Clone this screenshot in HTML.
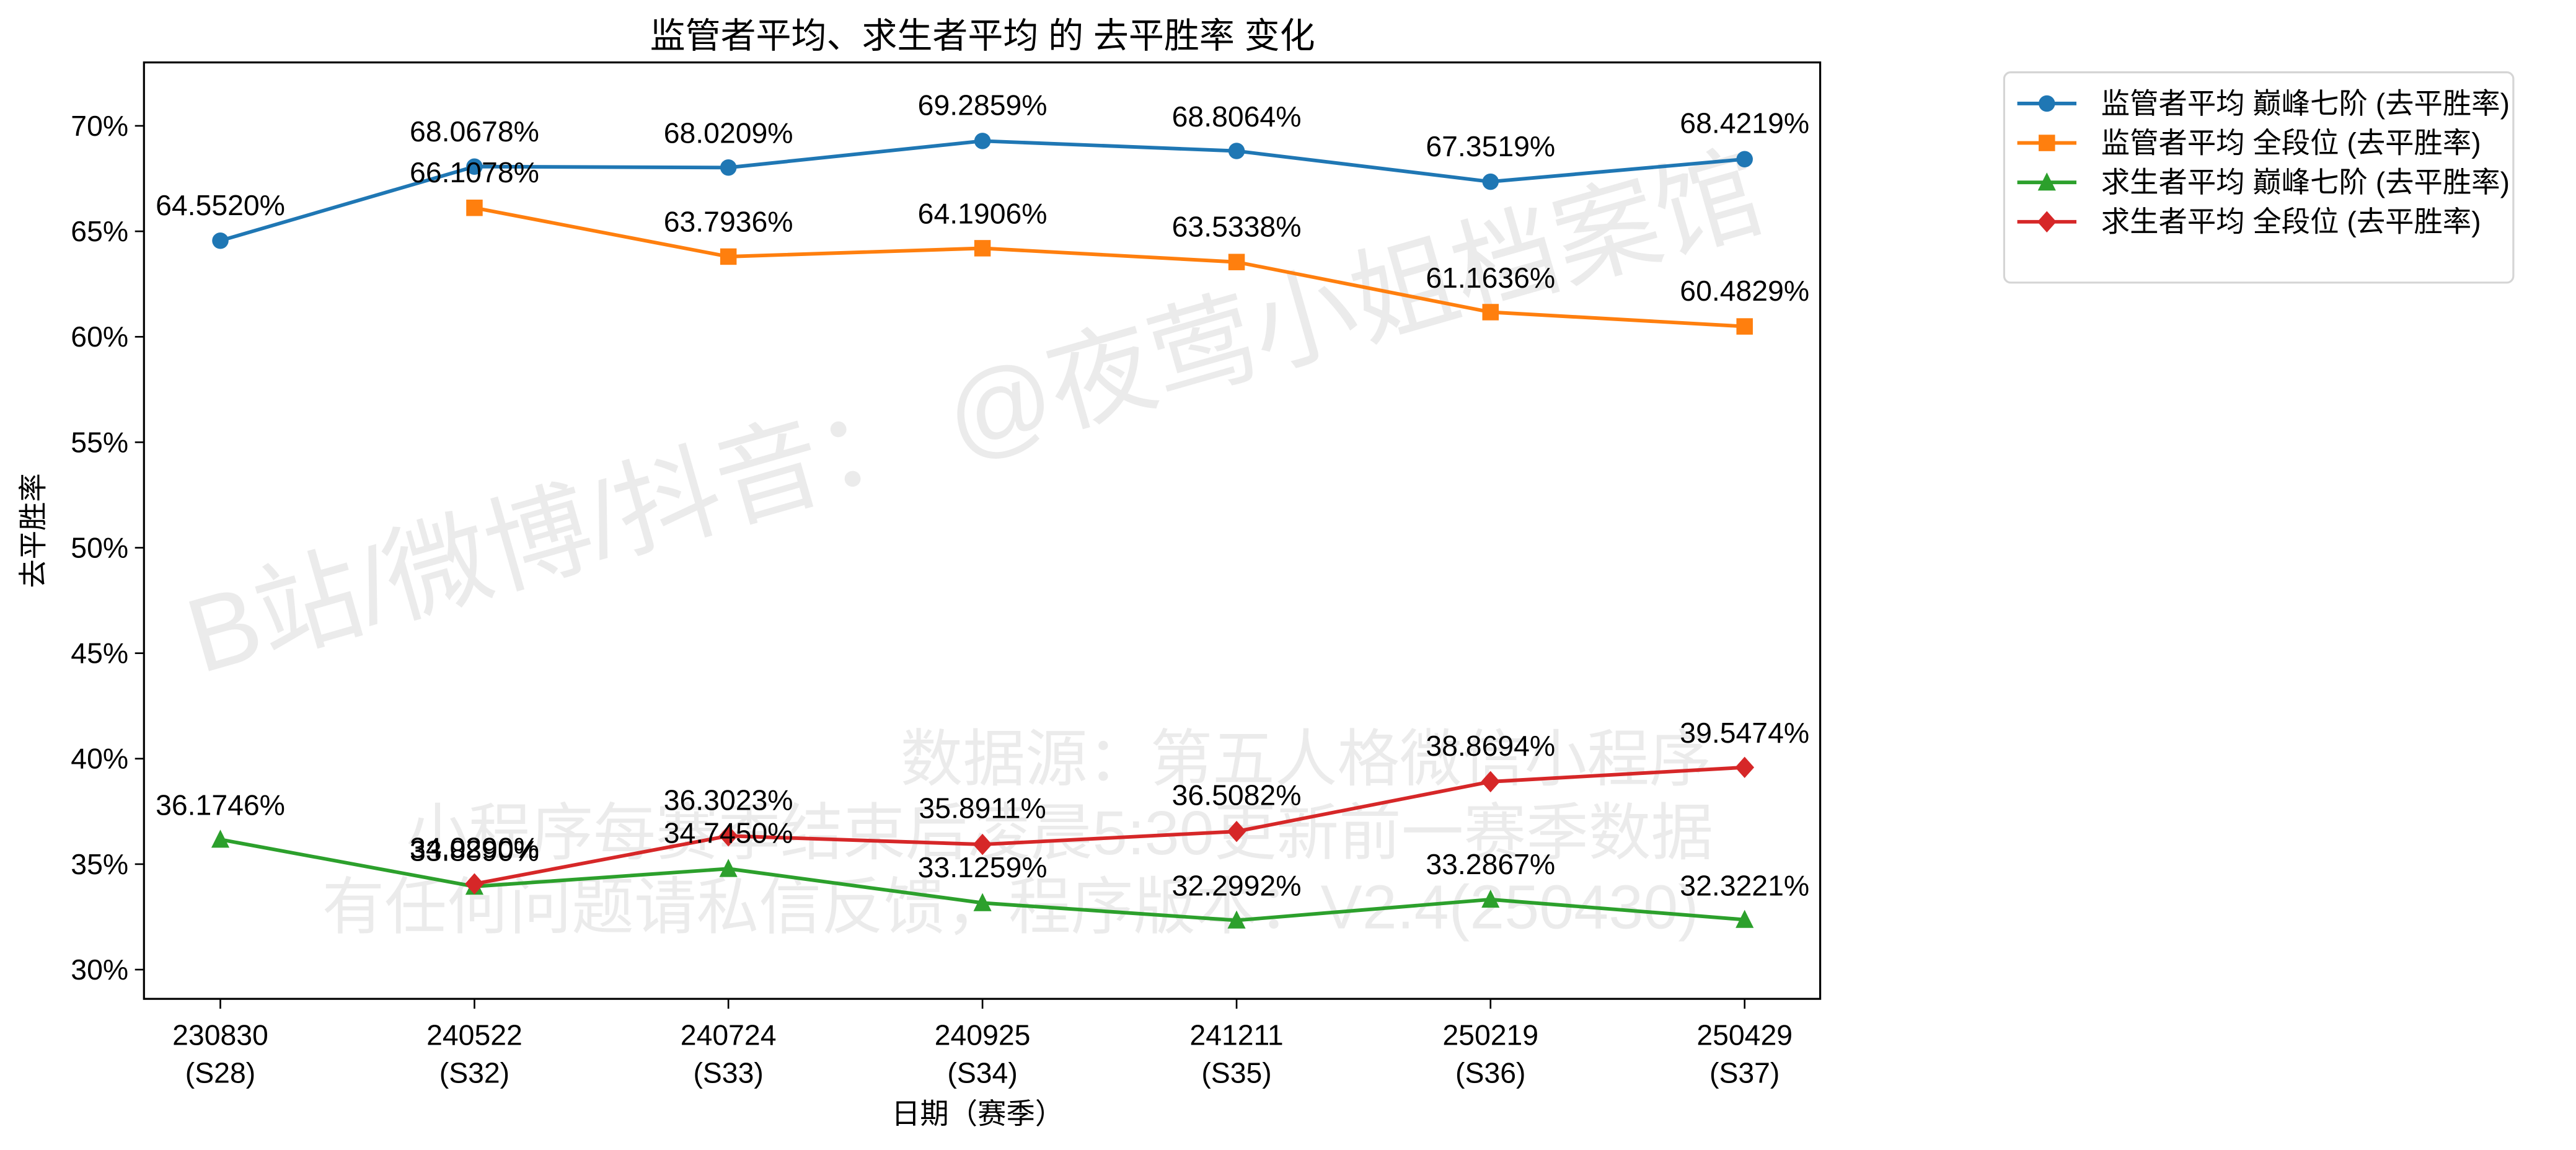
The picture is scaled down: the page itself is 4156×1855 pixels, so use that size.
<!DOCTYPE html>
<html><head><meta charset="utf-8"><style>html,body{margin:0;padding:0;background:#fff}svg{display:block}</style></head>
<body>
<svg width="4156" height="1855" viewBox="0 0 1568 700" xmlns="http://www.w3.org/2000/svg" font-family="'Liberation Sans','Noto Sans CJK SC',sans-serif">
<rect width="1568" height="700" fill="#fff"/>
<!-- watermarks -->
<g fill="#000" fill-opacity="0.08">
<text x="0" y="0" font-size="64" transform="translate(122,410) rotate(-16)">B站/微博/抖音： @夜莺小姐档案馆</text>
<text x="795" y="475" font-size="38" text-anchor="middle">数据源：第五人格微信小程序</text>
<text x="645" y="520" font-size="38" text-anchor="middle">小程序每赛季结束后凌晨5:30更新前一赛季数据</text>
<text x="615" y="565" font-size="38" text-anchor="middle">有任何问题请私信反馈，程序版本：V2.4(250430)</text>
</g>
<!-- axes -->
<rect x="87.5" y="38" width="1020.5" height="570" fill="none" stroke="#000" stroke-width="1.2"/>
<g font-size="17.5" fill="#000" text-anchor="end">
<g stroke="#000" stroke-width="1">
<line x1="82" x2="87.5" y1="76.6" y2="76.6"/><line x1="82" x2="87.5" y1="140.8" y2="140.8"/><line x1="82" x2="87.5" y1="205" y2="205"/><line x1="82" x2="87.5" y1="269.2" y2="269.2"/><line x1="82" x2="87.5" y1="333.4" y2="333.4"/><line x1="82" x2="87.5" y1="397.6" y2="397.6"/><line x1="82" x2="87.5" y1="461.8" y2="461.8"/><line x1="82" x2="87.5" y1="526" y2="526"/><line x1="82" x2="87.5" y1="590.2" y2="590.2"/>
</g>
<text x="78" y="82.6">70%</text><text x="78" y="146.8">65%</text><text x="78" y="211">60%</text><text x="78" y="275.2">55%</text><text x="78" y="339.4">50%</text><text x="78" y="403.6">45%</text><text x="78" y="467.8">40%</text><text x="78" y="532">35%</text><text x="78" y="596.2">30%</text>
</g>
<g font-size="17.5" fill="#000" text-anchor="middle">
<g stroke="#000" stroke-width="1">
<line x1="134" x2="134" y1="608" y2="614"/><line x1="288.7" x2="288.7" y1="608" y2="614"/><line x1="443.3" x2="443.3" y1="608" y2="614"/><line x1="598" x2="598" y1="608" y2="614"/><line x1="752.7" x2="752.7" y1="608" y2="614"/><line x1="907.3" x2="907.3" y1="608" y2="614"/><line x1="1062" x2="1062" y1="608" y2="614"/>
</g>
<text x="134" y="636">230830</text><text x="134" y="659">(S28)</text>
<text x="288.7" y="636">240522</text><text x="288.7" y="659">(S32)</text>
<text x="443.3" y="636">240724</text><text x="443.3" y="659">(S33)</text>
<text x="598" y="636">240925</text><text x="598" y="659">(S34)</text>
<text x="752.7" y="636">241211</text><text x="752.7" y="659">(S35)</text>
<text x="907.3" y="636">250219</text><text x="907.3" y="659">(S36)</text>
<text x="1062" y="636">250429</text><text x="1062" y="659">(S37)</text>
<text x="595" y="684">日期（赛季）</text>
<text x="598" y="29" font-size="21.5">监管者平均、求生者平均 的 去平胜率 变化</text>
<text x="0" y="0" transform="translate(26,323) rotate(-90)">去平胜率</text>
</g>
<!-- series -->
<g fill="none" stroke-width="2.2" stroke-linejoin="round">
<polyline stroke="#1f77b4" points="134,146.5 288.7,101.4 443.3,102.0 598,85.8 752.7,91.9 907.3,110.6 1062,96.9"/>
<polyline stroke="#ff7f0e" points="288.7,126.5 443.3,156.2 598,151.1 752.7,159.5 907.3,190.0 1062,198.7"/>
<polyline stroke="#2ca02c" points="134,511.0 288.7,539.6 443.3,528.8 598,549.6 752.7,560.2 907.3,547.5 1062,559.8"/>
<polyline stroke="#d62728" points="288.7,538.0 443.3,508.8 598,514.0 752.7,506.1 907.3,475.8 1062,467.1"/>
</g>
<g fill="#1f77b4">
<circle cx="134" cy="146.5" r="5"/><circle cx="288.7" cy="101.4" r="5"/><circle cx="443.3" cy="102.0" r="5"/><circle cx="598" cy="85.8" r="5"/><circle cx="752.7" cy="91.9" r="5"/><circle cx="907.3" cy="110.6" r="5"/><circle cx="1062" cy="96.9" r="5"/>
</g>
<g fill="#ff7f0e">
<rect x="283.7" y="121.5" width="10" height="10"/><rect x="438.3" y="151.2" width="10" height="10"/><rect x="593" y="146.1" width="10" height="10"/><rect x="747.7" y="154.5" width="10" height="10"/><rect x="902.3" y="185" width="10" height="10"/><rect x="1057" y="193.7" width="10" height="10"/>
</g>
<g fill="#2ca02c">
<polygon points="134,505 139.5,516 128.5,516"/><polygon points="288.7,533.6 294.2,544.6 283.2,544.6"/><polygon points="443.3,522.8 448.8,533.8 437.8,533.8"/><polygon points="598,543.6 603.5,554.6 592.5,554.6"/><polygon points="752.7,554.2 758.2,565.2 747.2,565.2"/><polygon points="907.3,541.5 912.8,552.5 901.8,552.5"/><polygon points="1062,553.8 1067.5,564.8 1056.5,564.8"/>
</g>
<g fill="#d62728">
<polygon points="288.7,531.5 294.5,538 288.7,544.5 282.9,538"/><polygon points="443.3,502.3 449.1,508.8 443.3,515.3 437.5,508.8"/><polygon points="598,507.5 603.8,514 598,520.5 592.2,514"/><polygon points="752.7,499.6 758.5,506.1 752.7,512.6 746.9,506.1"/><polygon points="907.3,469.3 913.1,475.8 907.3,482.3 901.5,475.8"/><polygon points="1062,460.6 1067.8,467.1 1062,473.6 1056.2,467.1"/>
</g>
<!-- data labels -->
<g font-size="17.5" fill="#000" text-anchor="middle">
<text x="134" y="131">64.5520%</text><text x="288.7" y="86">68.0678%</text><text x="443.3" y="87">68.0209%</text><text x="598" y="70">69.2859%</text><text x="752.7" y="77">68.8064%</text><text x="907.3" y="95">67.3519%</text><text x="1062" y="81">68.4219%</text>
<text x="288.7" y="111">66.1078%</text><text x="443.3" y="141">63.7936%</text><text x="598" y="136">64.1906%</text><text x="752.7" y="144">63.5338%</text><text x="907.3" y="175">61.1636%</text><text x="1062" y="183">60.4829%</text>
<text x="134" y="496">36.1746%</text><text x="288.7" y="524">33.8890%</text><text x="443.3" y="513">34.7450%</text><text x="598" y="534">33.1259%</text><text x="752.7" y="545">32.2992%</text><text x="907.3" y="532">33.2867%</text><text x="1062" y="545">32.3221%</text>
<text x="288.7" y="522">34.0290%</text><text x="443.3" y="493">36.3023%</text><text x="598" y="498">35.8911%</text><text x="752.7" y="490">36.5082%</text><text x="907.3" y="460">38.8694%</text><text x="1062" y="452">39.5474%</text>
</g>
<!-- legend -->
<rect x="1220" y="44" width="310" height="128" rx="4" fill="#fff" stroke="#d5d5d5" stroke-width="1.2"/>
<g stroke-width="2.2">
<line x1="1228" x2="1264" y1="63" y2="63" stroke="#1f77b4"/><circle cx="1246" cy="63" r="5" fill="#1f77b4"/>
<line x1="1228" x2="1264" y1="87" y2="87" stroke="#ff7f0e"/><rect x="1241" y="82" width="10" height="10" fill="#ff7f0e"/>
<line x1="1228" x2="1264" y1="111" y2="111" stroke="#2ca02c"/><polygon points="1246,105 1251.5,116 1240.5,116" fill="#2ca02c"/>
<line x1="1228" x2="1264" y1="135" y2="135" stroke="#d62728"/><polygon points="1246,128.5 1251.8,135 1246,141.5 1240.2,135" fill="#d62728"/>
</g>
<g font-size="17.5" fill="#000">
<text x="1279" y="69">监管者平均 巅峰七阶 (去平胜率)</text>
<text x="1279" y="93">监管者平均 全段位 (去平胜率)</text>
<text x="1279" y="117">求生者平均 巅峰七阶 (去平胜率)</text>
<text x="1279" y="141">求生者平均 全段位 (去平胜率)</text>
</g>
</svg>
</body></html>
